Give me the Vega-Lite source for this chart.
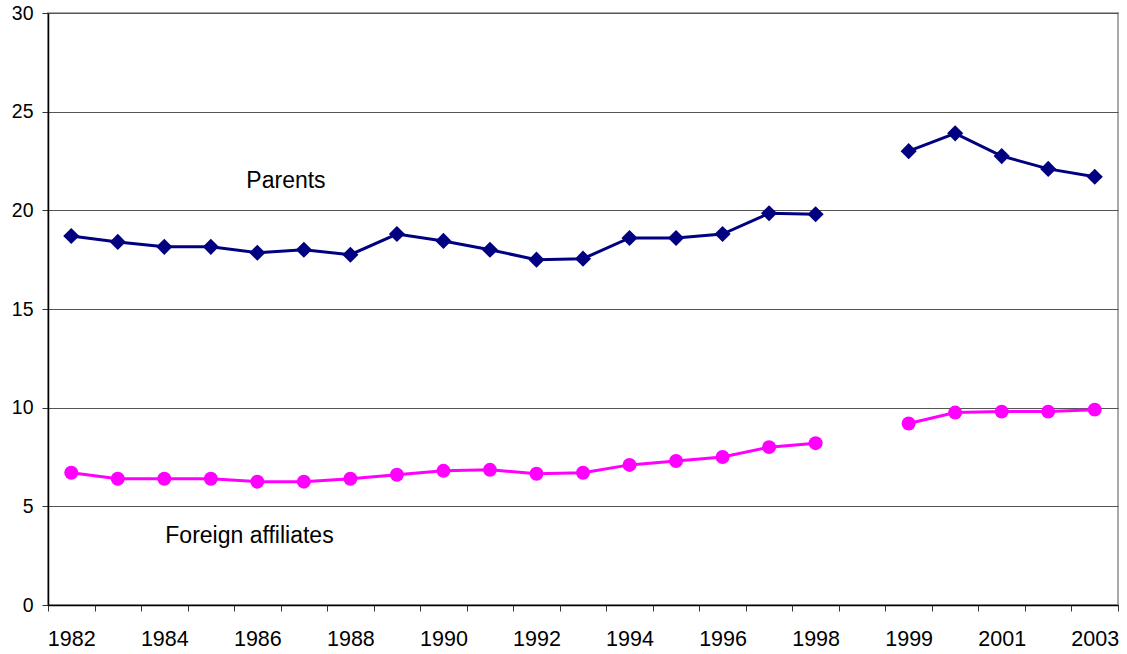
{
  "$schema": "https://vega.github.io/schema/vega-lite/v6.json",
  "autosize": "none",
  "width": 1070,
  "height": 592,
  "padding": {"left": 48, "top": 13, "right": 9, "bottom": 49},
  "background": "white",
  "config": {
    "font": "Liberation Sans",
    "view": {"stroke": "#aaaaaa", "strokeWidth": 2}
  },
  "datasets": {
    "series": [
      {"year": "1982", "series": "Parents", "period": "A", "value": 18.7},
      {"year": "1983", "series": "Parents", "period": "A", "value": 18.4},
      {"year": "1984", "series": "Parents", "period": "A", "value": 18.15},
      {"year": "1985", "series": "Parents", "period": "A", "value": 18.15},
      {"year": "1986", "series": "Parents", "period": "A", "value": 17.85},
      {"year": "1987", "series": "Parents", "period": "A", "value": 18.0},
      {"year": "1988", "series": "Parents", "period": "A", "value": 17.75},
      {"year": "1989", "series": "Parents", "period": "A", "value": 18.8},
      {"year": "1990", "series": "Parents", "period": "A", "value": 18.45},
      {"year": "1991", "series": "Parents", "period": "A", "value": 18.0},
      {"year": "1992", "series": "Parents", "period": "A", "value": 17.5},
      {"year": "1993", "series": "Parents", "period": "A", "value": 17.55},
      {"year": "1994", "series": "Parents", "period": "A", "value": 18.6},
      {"year": "1995", "series": "Parents", "period": "A", "value": 18.6},
      {"year": "1996", "series": "Parents", "period": "A", "value": 18.8},
      {"year": "1997", "series": "Parents", "period": "A", "value": 19.85},
      {"year": "1998", "series": "Parents", "period": "A", "value": 19.8},
      {"year": "1999", "series": "Parents", "period": "B", "value": 23.0},
      {"year": "2000", "series": "Parents", "period": "B", "value": 23.9},
      {"year": "2001", "series": "Parents", "period": "B", "value": 22.75},
      {"year": "2002", "series": "Parents", "period": "B", "value": 22.1},
      {"year": "2003", "series": "Parents", "period": "B", "value": 21.7},
      {"year": "1982", "series": "Foreign affiliates", "period": "A", "value": 6.7},
      {"year": "1983", "series": "Foreign affiliates", "period": "A", "value": 6.4},
      {"year": "1984", "series": "Foreign affiliates", "period": "A", "value": 6.4},
      {"year": "1985", "series": "Foreign affiliates", "period": "A", "value": 6.4},
      {"year": "1986", "series": "Foreign affiliates", "period": "A", "value": 6.25},
      {"year": "1987", "series": "Foreign affiliates", "period": "A", "value": 6.25},
      {"year": "1988", "series": "Foreign affiliates", "period": "A", "value": 6.4},
      {"year": "1989", "series": "Foreign affiliates", "period": "A", "value": 6.6},
      {"year": "1990", "series": "Foreign affiliates", "period": "A", "value": 6.8},
      {"year": "1991", "series": "Foreign affiliates", "period": "A", "value": 6.85},
      {"year": "1992", "series": "Foreign affiliates", "period": "A", "value": 6.65},
      {"year": "1993", "series": "Foreign affiliates", "period": "A", "value": 6.7},
      {"year": "1994", "series": "Foreign affiliates", "period": "A", "value": 7.1},
      {"year": "1995", "series": "Foreign affiliates", "period": "A", "value": 7.3},
      {"year": "1996", "series": "Foreign affiliates", "period": "A", "value": 7.5},
      {"year": "1997", "series": "Foreign affiliates", "period": "A", "value": 8.0},
      {"year": "1998", "series": "Foreign affiliates", "period": "A", "value": 8.2},
      {"year": "1999", "series": "Foreign affiliates", "period": "B", "value": 9.2},
      {"year": "2000", "series": "Foreign affiliates", "period": "B", "value": 9.75},
      {"year": "2001", "series": "Foreign affiliates", "period": "B", "value": 9.8},
      {"year": "2002", "series": "Foreign affiliates", "period": "B", "value": 9.8},
      {"year": "2003", "series": "Foreign affiliates", "period": "B", "value": 9.9}
    ],
    "labels": [
      {"label": "Parents", "year": "1986", "value": 21.12},
      {"label": "Foreign affiliates", "year": "1984", "value": 3.13}
    ]
  },
  "encoding": {
    "x": {
      "field": "year",
      "type": "ordinal",
      "scale": {
        "type": "band",
        "domain": ["1982","1983","1984","1985","1986","1987","1988","1989","1990","1991","1992","1993","1994","1995","1996","1997","1998"," ","1999","2000","2001","2002","2003"],
        "paddingInner": 0,
        "paddingOuter": 0
      },
      "axis": {
        "title": null,
        "labelAngle": 0,
        "labelExpr": "indexof(['1982','1984','1986','1988','1990','1992','1994','1996','1998','1999','2001','2003'], datum.value) >= 0 ? datum.value : ''",
        "tickBand": "extent",
        "tickSize": 6,
        "tickColor": "#333333",
        "domainColor": "#000000",
        "domainWidth": 1.5,
        "labelFontSize": 21.5,
        "labelColor": "#000000",
        "labelPadding": 17,
        "grid": false
      }
    },
    "y": {
      "field": "value",
      "type": "quantitative",
      "scale": {"domain": [0, 30], "nice": false},
      "axis": {
        "title": null,
        "values": [0, 5, 10, 15, 20, 25, 30],
        "tickSize": 6,
        "tickColor": "#333333",
        "domainColor": "#000000",
        "domainWidth": 1.5,
        "labelFontSize": 19.5,
        "labelColor": "#000000",
        "labelPadding": 9,
        "grid": true,
        "gridColor": "#555555",
        "gridWidth": 1
      }
    }
  },
  "layer": [
    {
      "data": {"name": "series"},
      "mark": {"type": "line", "strokeWidth": 3},
      "encoding": {
        "color": {
          "field": "series",
          "type": "nominal",
          "scale": {"domain": ["Parents", "Foreign affiliates"], "range": ["#000080", "#ff00ff"]},
          "legend": null
        },
        "detail": {"field": "period", "type": "nominal"}
      }
    },
    {
      "data": {"name": "series"},
      "mark": {"type": "point", "filled": true, "opacity": 1},
      "encoding": {
        "color": {
          "field": "series",
          "type": "nominal",
          "scale": {"domain": ["Parents", "Foreign affiliates"], "range": ["#000080", "#ff00ff"]},
          "legend": null
        },
        "shape": {
          "field": "series",
          "type": "nominal",
          "scale": {"domain": ["Parents", "Foreign affiliates"], "range": ["diamond", "circle"]},
          "legend": null
        },
        "size": {
          "field": "series",
          "type": "nominal",
          "scale": {"domain": ["Parents", "Foreign affiliates"], "range": [260, 195]},
          "legend": null
        }
      }
    },
    {
      "data": {"name": "labels"},
      "transform": [{"filter": "datum.label == 'Parents'"}],
      "mark": {"type": "text", "align": "left", "baseline": "alphabetic", "fontSize": 23, "color": "#000000", "dx": -11},
      "encoding": {
        "text": {"field": "label", "type": "nominal"}
      }
    },
    {
      "data": {"name": "labels"},
      "transform": [{"filter": "datum.label == 'Foreign affiliates'"}],
      "mark": {"type": "text", "align": "left", "baseline": "alphabetic", "fontSize": 23, "color": "#000000", "dx": 1},
      "encoding": {
        "text": {"field": "label", "type": "nominal"}
      }
    }
  ]
}
